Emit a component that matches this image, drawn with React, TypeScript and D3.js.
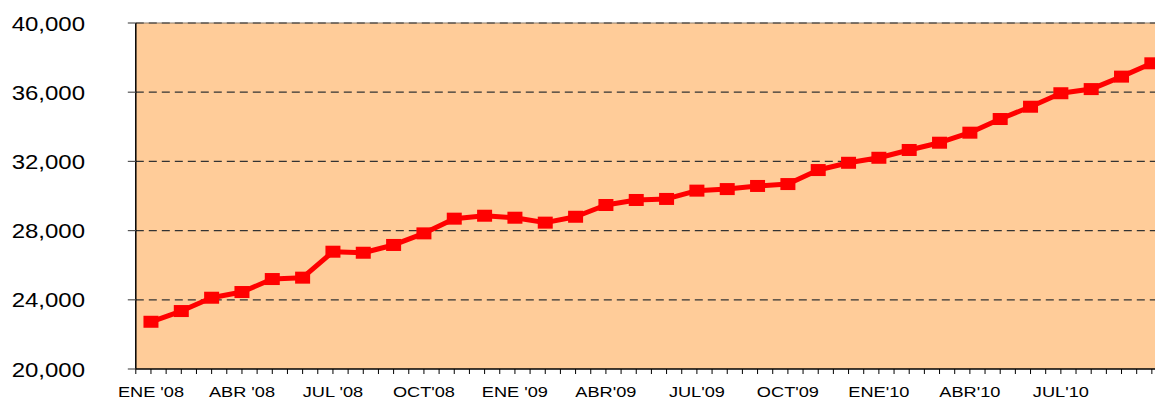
import React, { useRef, useEffect } from 'react'
import * as d3 from 'd3'

// monthly categories ENE'08 .. OCT'10
const months = [
  'ENE08', 'FEB08', 'MAR08', 'ABR08', 'MAY08', 'JUN08', 'JUL08', 'AGO08', 'SEP08', 'OCT08', 'NOV08', 'DIC08',
  'ENE09', 'FEB09', 'MAR09', 'ABR09', 'MAY09', 'JUN09', 'JUL09', 'AGO09', 'SEP09', 'OCT09', 'NOV09', 'DIC09',
  'ENE10', 'FEB10', 'MAR10', 'ABR10', 'MAY10', 'JUN10', 'JUL10', 'AGO10', 'SEP10', 'OCT10',
]

const values = [
  22730, 23350, 24120, 24450, 25200, 25280, 26780, 26720, 27170, 27840, 28690, 28860,
  28745, 28460, 28800, 29480, 29770, 29830, 30310, 30400, 30580, 30690, 31500, 31920,
  32210, 32660, 33080, 33660, 34450, 35160, 35940, 36180, 36900, 37670,
]

// shown labels and the month they sit under
const tickMonths = ['ENE08', 'ABR08', 'JUL08', 'OCT08', 'ENE09', 'ABR09', 'JUL09', 'OCT09', 'ENE10', 'ABR10', 'JUL10']
const tickLabels = ["ENE '08", "ABR '08", "JUL '08", "OCT'08", "ENE '09", "ABR'09", "JUL'09", "OCT'09", "ENE'10", "ABR'10", "JUL'10"]

const yTicks = [20000, 24000, 28000, 32000, 36000, 40000]

const App = () => {
  const svgRef = useRef<SVGSVGElement>(null)
  const W = 1155
  const H = 400
  const left = 135.8, top = 23, bottom = 369
  const band = 30.33
  const right = left + band * months.length

  useEffect(() => {
    const svg = d3.select(svgRef.current)
    svg.selectAll('*').remove()

    const x = d3.scaleBand().domain(months).range([left, right]).padding(0)
    const y = d3.scaleLinear().domain([20000, 40000]).range([bottom, top])
    const cx = (m) => x(m) + x.bandwidth() / 2

    // plot area
    svg.append('rect')
      .attr('x', left).attr('y', top)
      .attr('width', right - left).attr('height', bottom - top)
      .attr('fill', '#FFCC99')

    svg.append('line')
      .attr('x1', left).attr('x2', right).attr('y1', top).attr('y2', top)
      .attr('stroke', '#8a7a6a').attr('stroke-width', 1)

    // dashed gridlines
    svg.append('g').selectAll('line')
      .data(yTicks.filter(d => d > 20000))
      .enter().append('line')
      .attr('x1', left).attr('x2', right)
      .attr('y1', d => y(d)).attr('y2', d => y(d))
      .attr('stroke', '#333').attr('stroke-width', 1.2)
      .attr('stroke-dasharray', '8,5')

    // y axis
    const yAxis = svg.append('g')
    yAxis.append('line')
      .attr('x1', left).attr('x2', left).attr('y1', top).attr('y2', bottom)
      .attr('stroke', '#000').attr('stroke-width', 1.5)
    yAxis.selectAll('line.tick').data(yTicks).enter().append('line')
      .attr('class', 'tick')
      .attr('x1', left - 8).attr('x2', left)
      .attr('y1', d => y(d)).attr('y2', d => y(d))
      .attr('stroke', '#555').attr('stroke-width', 1.2)
    yAxis.selectAll('text').data(yTicks).enter().append('text')
      .attr('transform', d => 'translate(85,' + (y(d) + 7.5) + ') scale(1.2,1)')
      .attr('text-anchor', 'end')
      .attr('font-family', '"Liberation Sans", Arial, sans-serif')
      .attr('font-size', 20)
      .attr('fill', '#000')
      .text(d => d3.format(',')(d))

    // x axis
    const xAxis = svg.append('g')
    xAxis.append('line')
      .attr('x1', left).attr('x2', right).attr('y1', bottom).attr('y2', bottom)
      .attr('stroke', '#000').attr('stroke-width', 1.5)
    const tickPos = []
    months.forEach(m => { tickPos.push(x(m)); tickPos.push(cx(m)) })
    tickPos.push(right)
    xAxis.selectAll('line.tick').data(tickPos).enter().append('line')
      .attr('class', 'tick')
      .attr('x1', d => d).attr('x2', d => d)
      .attr('y1', bottom).attr('y2', bottom + 5)
      .attr('stroke', '#000').attr('stroke-width', 1)
    xAxis.selectAll('text').data(tickMonths).enter().append('text')
      .attr('transform', d => 'translate(' + cx(d) + ',397) scale(1.3,1)')
      .attr('text-anchor', 'middle')
      .attr('font-family', '"Liberation Sans", Arial, sans-serif')
      .attr('font-size', 14)
      .attr('fill', '#000')
      .text((d, i) => tickLabels[i])

    // series line
    const line = d3.line<number>()
      .x((d, i) => cx(months[i]))
      .y(d => y(d))
    svg.append('path')
      .datum(values)
      .attr('d', line)
      .attr('fill', 'none')
      .attr('stroke', '#FF0000')
      .attr('stroke-width', 5)
      .attr('stroke-linejoin', 'round')

    svg.append('g').selectAll('rect')
      .data(values)
      .enter().append('rect')
      .attr('x', (d, i) => cx(months[i]) - 7.5)
      .attr('y', d => y(d) - 6)
      .attr('width', 15).attr('height', 12)
      .attr('fill', '#FF0000')
  }, [])

  return (
    <svg ref={svgRef} width={W} height={H}
      style={{ position: 'absolute', left: 0, top: 0, overflow: 'hidden', background: '#fff' }} />
  )
}

export default App
